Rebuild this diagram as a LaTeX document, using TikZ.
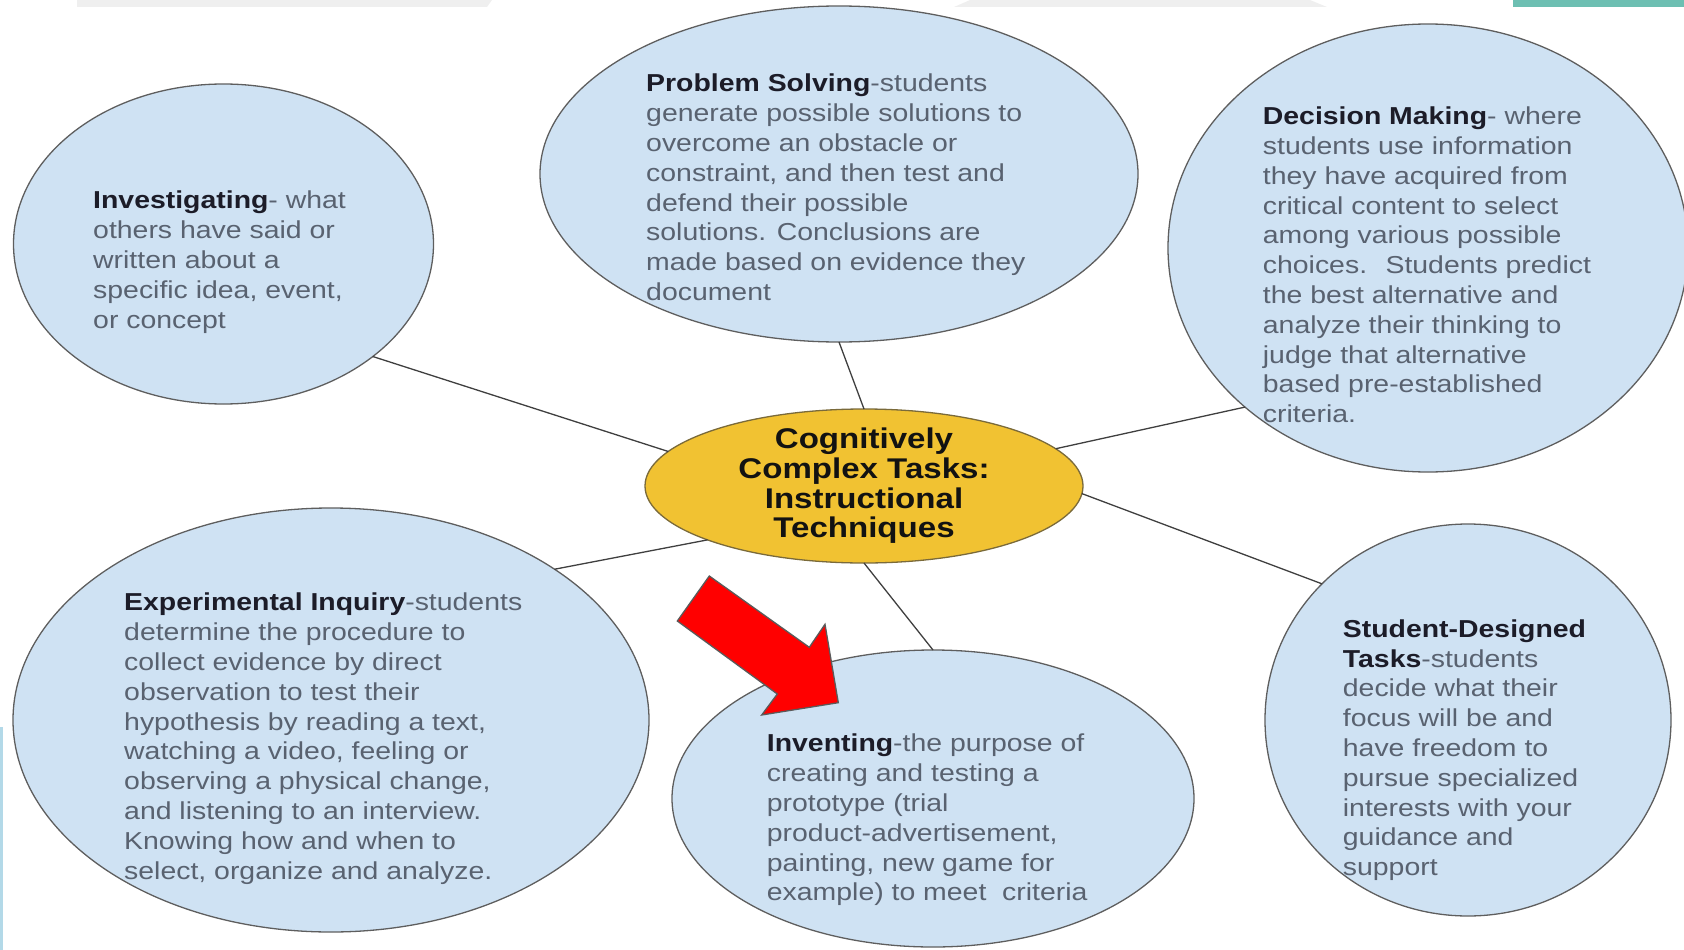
\documentclass[tikz,border=0pt]{standalone}
\usepackage{fontspec}
\setmainfont[FakeStretch=1.16]{Liberation Sans}
\usetikzlibrary{shapes.geometric}

\definecolor{bubblefill}{HTML}{CFE2F3}
\definecolor{bubblerim}{HTML}{5E5E5E}
\definecolor{hubfill}{HTML}{F1C232}
\definecolor{hubrim}{HTML}{7A6A3A}
\definecolor{bodytext}{HTML}{596270}
\definecolor{headtext}{HTML}{1C1C28}
\definecolor{spokeline}{HTML}{3F3F3F}
\definecolor{barbg}{HTML}{EFEFEF}
\definecolor{tealbar}{HTML}{6DBFB2}
\definecolor{edgeblue}{HTML}{B3D9E8}
\definecolor{arrowrim}{HTML}{5A5A5A}

\newcommand{\keyterm}[1]{\textcolor{headtext}{\bfseries #1}}

\begin{document}
\begin{tikzpicture}[x=1pt, y=-1pt,
    bubble/.style={ellipse, draw=bubblerim, line width=1.3pt, fill=bubblefill,
      inner sep=0pt, outer sep=0pt},
    blurb/.style={anchor=north west, inner sep=0pt, align=left, text=bodytext,
      font=\fontsize{24.5}{29.8}\selectfont},
    spoke/.style={draw=spokeline, line width=1.3pt}]
  \useasboundingbox (0,0) rectangle (1684,950);
  \clip (0,0) rectangle (1684,950);

  % slide trim
  \fill[barbg] (77,0) -- (492,0) -- (487,7) -- (77,7) -- cycle;
  \fill[barbg] (970,0) -- (1310,0) -- (1327,7) -- (954,7) -- cycle;
  \fill[tealbar] (1513,0) rectangle (1684,7);
  \fill[edgeblue] (0,727) rectangle (3,950);

  % the six techniques
  \node[bubble, minimum width=420, minimum height=320] (invest) at (223.5,244) {};
  \node[bubble, minimum width=598, minimum height=336] (probsolve) at (839,174) {};
  \node[bubble, minimum width=520, minimum height=448] (decide) at (1428,248) {};
  \node[bubble, minimum width=636, minimum height=424] (expinq) at (331,720) {};
  \node[bubble, minimum width=522, minimum height=297] (invent) at (933,798.5) {};
  \node[bubble, minimum width=406, minimum height=392] (studtask) at (1468,720) {};

  \node[ellipse, draw=hubrim, line width=1.3pt, fill=hubfill, inner xsep=0pt,
    inner ysep=-4pt, outer sep=0pt, minimum width=438, minimum height=154,
    align=center, font=\bfseries\fontsize{28.5}{29.7}\selectfont, text=black!93]
    (hub) at (864,486) {Cognitively\\Complex Tasks:\\Instructional\\Techniques};

  \draw[spoke] (invest.-37.5) -- (hub.170);
  \draw[spoke] (probsolve.south) -- (hub.north);
  \draw[spoke] (decide.-139) -- (hub.11);
  \draw[spoke] (hub.-2) -- (studtask.137);
  \draw[spoke] (hub.-161) -- (expinq.34);
  \draw[spoke] (hub.south) -- (invent.north);

  \node[blurb] (investtxt) at (93,191)
    {\keyterm{Investigating}- what\\others have said or\\written about a\\specific idea, event,\\or concept};
  \node[blurb] (probsolvetxt) at (646,74)
    {\keyterm{Problem Solving}-students\\generate possible solutions to\\overcome an obstacle or\\constraint, and then test and\\defend their possible\\solutions. Conclusions are\\made based on evidence they\\document};
  \node[blurb] (decidetxt) at (1262.7,106.7)
    {\keyterm{Decision Making}- where\\students use information\\they have acquired from\\critical content to select\\among various possible\\choices.~ Students predict\\the best alternative and\\analyze their thinking to\\judge that alternative\\based pre-established\\criteria.};
  \node[blurb] (expinqtxt) at (124,593)
    {\keyterm{Experimental Inquiry}-students\\determine the procedure to\\collect evidence by direct\\observation to test their\\hypothesis by reading a text,\\watching a video, feeling or\\observing a physical change,\\and listening to an interview.\\Knowing how and when to\\select, organize and analyze.};
  \node[blurb] (inventtxt) at (766.7,734)
    {\keyterm{Inventing}-the purpose of\\creating and testing a\\prototype (trial\\product-advertisement,\\painting, new game for\\example) to meet~ criteria};
  \node[blurb] (studtasktxt) at (1342.7,619.3)
    {\keyterm{Student-Designed}\\\keyterm{Tasks}-students\\decide what their\\focus will be and\\have freedom to\\pursue specialized\\interests with your\\guidance and\\support};

  % pointer to Inventing
  \draw[draw=arrowrim, fill=red, line width=1.3pt, line join=miter]
    (677.3,621) -- (709.3,576) -- (809.3,647.3) -- (825,624.3) -- (838.3,702.7)
    -- (761.7,715) -- (777.3,694) -- cycle;
\end{tikzpicture}
\end{document}
